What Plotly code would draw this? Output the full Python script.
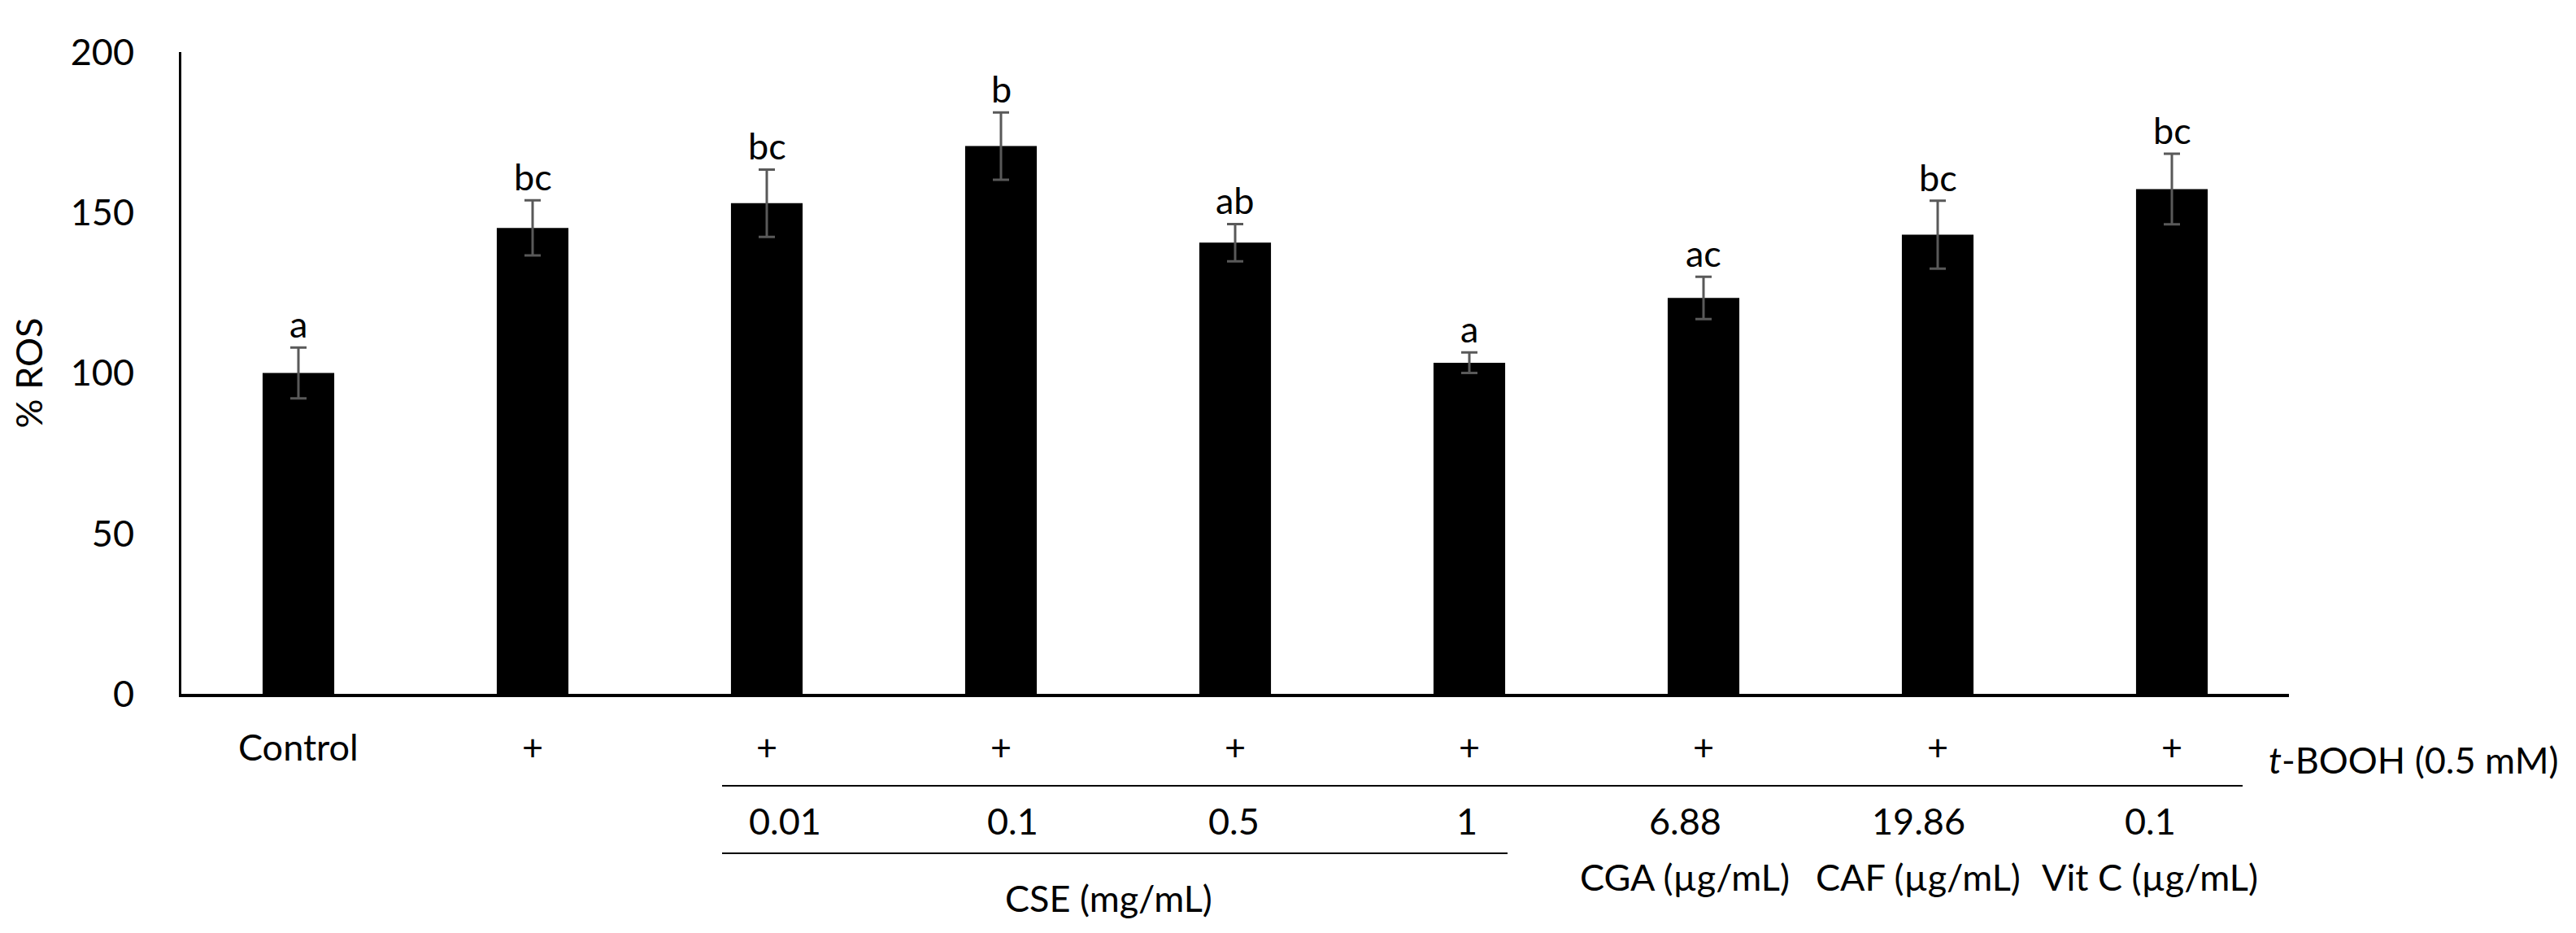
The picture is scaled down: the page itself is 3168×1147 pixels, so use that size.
import plotly.graph_objects as go

# ---------------- data ----------------
row1_labels = ["Control", "+", "+", "+", "+", "+", "+", "+", "+"]
ros_mean = [100.0, 145.2, 152.9, 170.7, 140.6, 103.2, 123.4, 143.1, 157.3]
ros_err = [7.9, 8.6, 10.5, 10.5, 5.8, 3.2, 6.6, 10.6, 11.0]
sig_letters = ["a", "bc", "bc", "b", "ab", "a", "ac", "bc", "bc"]
conc_labels = ["", "", "0.01", "0.1", "0.5", "1", "6.88", "19.86", "0.1"]
unit_labels = ["", "", "", "", "", "", "CGA (µg/mL)", "CAF (µg/mL)", "Vit C (µg/mL)"]
cse_label = "CSE (mg/mL)"
tbooh_label = "<i>t</i>-BOOH (0.5 mM)"
y_ticks = [0, 50, 100, 150, 200]

# ---------------- geometry helpers (pixels of the 3168x1147 canvas) ----------------
W, H = 3168, 1147
L, R, T, B = 215, 361, 56, 302
PH = H - T - B
ZERO_Y = H - B
CAT = (W - L - R) / len(ros_mean)


def py(Y):
    """pixel y -> paper y"""
    return (ZERO_Y - Y) / PH


def cx(X):
    """pixel x -> data x"""
    return (X - L) / CAT - 0.5


FONT = "Lato"
FS = 45
xs = list(range(len(ros_mean)))

fig = go.Figure()
fig.add_trace(go.Bar(
    x=xs, y=ros_mean, width=0.306,
    marker=dict(color="#000000", line=dict(width=0)),
    error_y=dict(type="data", array=ros_err, visible=True,
                 color="#595959", thickness=3, width=10),
    showlegend=False, hoverinfo="skip",
))

ann = []
# significance letters
for i, (m, e, t) in enumerate(zip(ros_mean, ros_err, sig_letters)):
    ann.append(dict(x=i, y=m + e, xref="x", yref="y", text=t, showarrow=False,
                    yanchor="bottom", yshift=0,
                    font=dict(family=FONT, size=FS, color="#000")))
# first row (Control / +)
for i, t in enumerate(row1_labels):
    ann.append(dict(x=i, y=py(910), xref="x", yref="paper", text=t, showarrow=False,
                    yanchor="middle", font=dict(family=FONT, size=FS, color="#000")))
# concentration row
conc_shift = [0, 0, 22, 14, -2, -3, -23, -24, -27]
for i, t in enumerate(conc_labels):
    if t:
        ann.append(dict(x=i, y=py(1001), xref="x", yref="paper", text=t, showarrow=False,
                        xshift=conc_shift[i], yanchor="middle",
                        font=dict(family=FONT, size=FS, color="#000")))
# unit labels for reference compounds
for i, t in enumerate(unit_labels):
    if t:
        ann.append(dict(x=i, y=py(1070), xref="x", yref="paper", text=t, showarrow=False,
                        xshift=conc_shift[i], yanchor="middle",
                        font=dict(family=FONT, size=FS, color="#000")))
# CSE label
ann.append(dict(x=cx(1355), y=py(1096), xref="x", yref="paper", text=cse_label,
                showarrow=False, yanchor="middle",
                font=dict(family=FONT, size=FS, color="#000")))
# t-BOOH label
ann.append(dict(x=cx(2780), y=py(926), xref="x", yref="paper", text=tbooh_label,
                showarrow=False, xanchor="left", yanchor="middle",
                font=dict(family=FONT, size=FS, color="#000")))

shapes = [
    dict(type="line", xref="x", yref="paper", x0=cx(880), x1=cx(2750),
         y0=py(958), y1=py(958), line=dict(color="#000", width=2)),
    dict(type="line", xref="x", yref="paper", x0=cx(880), x1=cx(1846),
         y0=py(1041), y1=py(1041), line=dict(color="#000", width=2)),
]

fig.update_layout(
    width=W, height=H,
    margin=dict(l=L, r=R, t=T, b=B, pad=0),
    paper_bgcolor="white", plot_bgcolor="white",
    font=dict(family=FONT, size=FS, color="#000"),
    annotations=ann, shapes=shapes,
    xaxis=dict(range=[-0.5, len(ros_mean) - 0.5], showticklabels=False, ticks="",
               showgrid=False, zeroline=False, showline=True,
               linecolor="#000", linewidth=4, fixedrange=True),
    yaxis=dict(range=[0, 200], tickvals=y_ticks, ticks="", showgrid=False,
               zeroline=False, showline=True, linecolor="#000", linewidth=3,
               ticklabelstandoff=46,
               tickfont=dict(family=FONT, size=FS, color="#000"),
               title=dict(text="% ROS", standoff=20,
                          font=dict(family=FONT, size=FS, color="#000"))),
    bargap=0.7,
)

fig.write_html("out.html")
